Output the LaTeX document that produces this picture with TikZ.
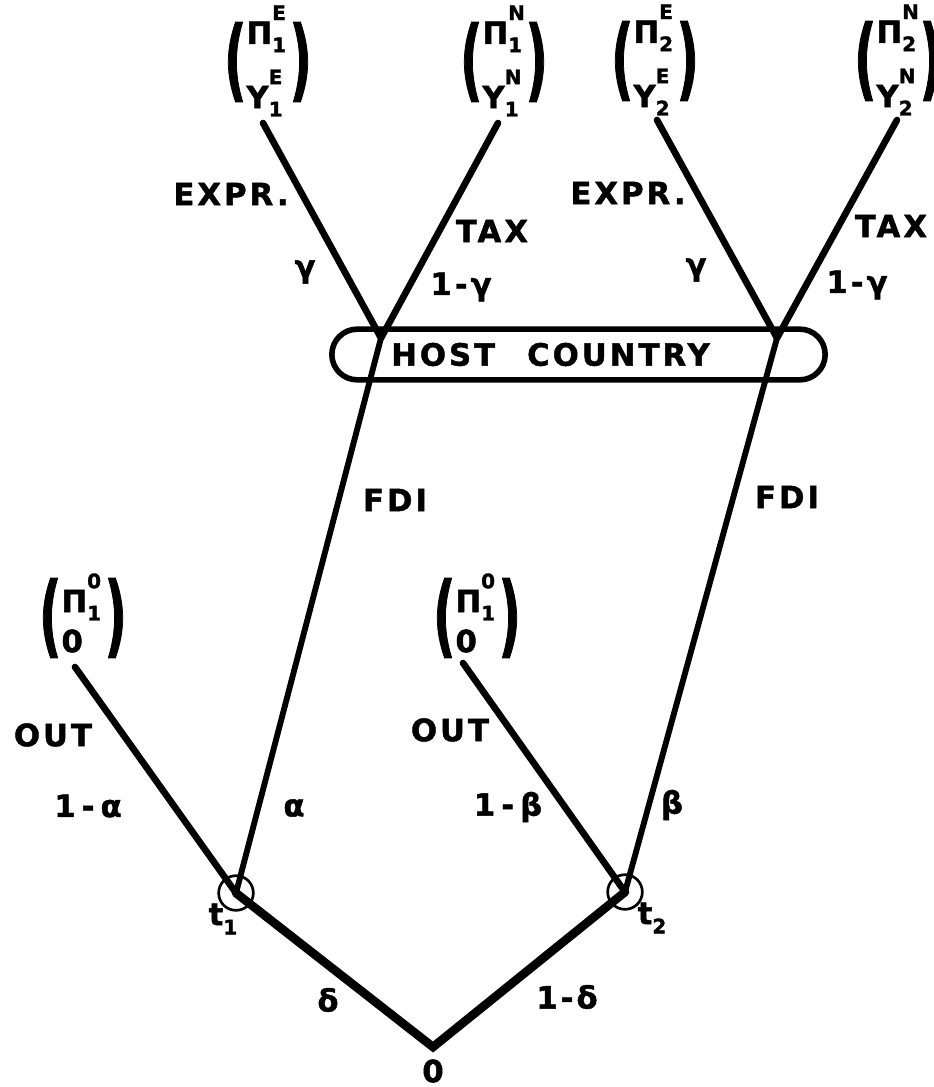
\documentclass[tikz,border=0pt]{standalone}
\usepackage{fontspec}
\usepackage{graphicx}
\newfontfamily\lbl[LetterSpace=10, BoldFeatures={FakeBold=1.5}]{DejaVu Sans}
\usetikzlibrary{calc}
\newcommand{\supsub}[2]{\rlap{\raisebox{0.78em}{\fontsize{15}{15}\selectfont #1}}\raisebox{-0.27em}{\makebox[13pt][l]{\fontsize{15}{15}\selectfont #2}}}
\newcommand{\pvec}[3]{$\vcenter{\hbox{\scalebox{1.6}[2.9]{(}}}\vcenter{\hbox{\begin{tabular}{@{}l@{}}#2\\[#1]#3\end{tabular}}}\vcenter{\hbox{\scalebox{1.6}[2.9]{)}}}$}
\begin{document}
\begin{tikzpicture}[x=0.75pt,y=-0.75pt,
  every node/.style={font=\lbl\bfseries\fontsize{23}{26}\selectfont, inner sep=0pt},
  branch/.style={line width=5pt, line cap=round},
  fdi/.style={line width=4.4pt, line cap=round},
  deltaline/.style={line width=6.5pt, line cap=round, line join=miter},
  chance/.style={circle, draw, line width=2pt, minimum size=26pt, inner sep=0pt},
  hostbox/.style={draw, rounded corners=19pt, line width=4.2pt, minimum width=370pt, minimum height=38pt, inner sep=0pt}]
\useasboundingbox (0,0) rectangle (933,1087);

% decision / chance nodes
\coordinate (root) at (433,1047);
\node (zero) at (433,1071) {0};
\node[chance] (t1) at (236,893) {};
\node[chance] (t2) at (625,892) {};
\node (t1lab) at (223,919) {t\raisebox{-0.3em}{\fontsize{15}{15}\selectfont 1}};
\node (t2lab) at (652,918) {t\raisebox{-0.3em}{\fontsize{15}{15}\selectfont 2}};

% host country information set
\node[hostbox] (HC) at (578.5,354.5) {\raisebox{-3pt}{HOST\hspace{24pt}COUNTRY}\rule{42pt}{0pt}};
\coordinate (H1) at (381,338);
\coordinate (H2) at (777,338);

% payoff vectors
\node (PE1) at (268,62) {\pvec{11.5pt}{Π\supsub{E}{1}}{Y\supsub{E}{1}}};
\node (PN1) at (504,62) {\pvec{11.5pt}{Π\supsub{N}{1}}{Y\supsub{N}{1}}};
\node (PE2) at (655,61) {\pvec{11.5pt}{Π\supsub{E}{2}}{Y\supsub{E}{2}}};
\node (PN2) at (898,61) {\pvec{11.5pt}{Π\supsub{N}{2}}{Y\supsub{N}{2}}};
\node (O1) at (83,618) {\pvec{4pt}{Π\supsub{0}{1}}{0}};
\node (O2) at (477,618) {\pvec{4pt}{Π\supsub{0}{1}}{0}};

\coordinate (PE1f) at ($(PE1)+(-5,61)$);
\coordinate (PN1f) at ($(PN1)+(-6,61)$);
\coordinate (PE2f) at ($(PE2)+(2,59)$);
\coordinate (PN2f) at ($(PN2)+(-1,59)$);
\coordinate (O1f) at ($(O1)+(-8,49)$);
\coordinate (O2f) at ($(O2)+(-14,45)$);

% connectors
\draw[deltaline] (t1.center) -- (root) -- (t2.center);
\draw[branch] (t1.center) -- (O1f);
\draw[fdi] (t1.center) -- (H1);
\draw[branch] (t2.center) -- (O2f);
\draw[fdi] (t2.center) -- (H2);
\draw[branch] (H1) -- (PE1f);
\draw[branch] (H1) -- (PN1f);
\draw[branch] (H2) -- (PE2f);
\draw[branch] (H2) -- (PN2f);

% branch labels
\node (lexpr1) at (231,194) {EXPR.};
\node (ltax1) at (492,231) {TAX};
\node (lg1) at (305,272) {γ};
\node (l1g1) at (461,287) {1-γ};
\node (lexpr2) at (628,193) {EXPR.};
\node (ltax2) at (891,226) {TAX};
\node (lg2) at (696,270) {γ};
\node (l1g2) at (857,285) {1-γ};
\node (lfdi1) at (395,500) {FDI};
\node (lfdi2) at (787,497) {FDI};
\node (lout1) at (53,735) {OUT};
\node (lout2) at (450,730) {OUT};
\node (l1a) at (88,806) {1\hspace{0.2em}-\hspace{0.2em}α};
\node (la) at (294,808) {α};
\node (l1b) at (508,807) {1\hspace{0.2em}-\hspace{0.2em}β};
\node (lb) at (672,805) {β};
\node (ld) at (328,1000) {δ};
\node (l1d) at (567,997) {1-δ};
\end{tikzpicture}
\end{document}
